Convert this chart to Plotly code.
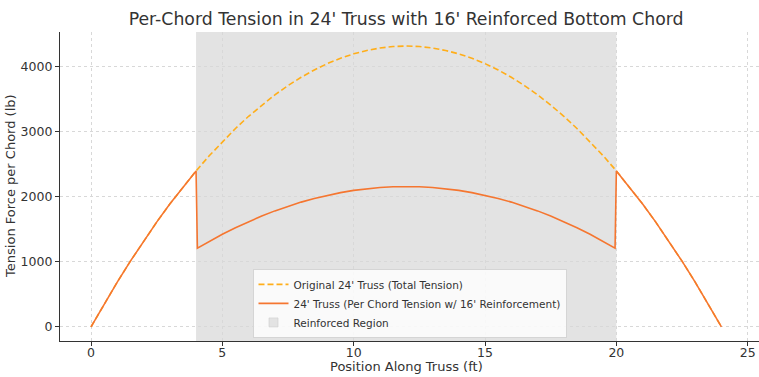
import plotly.graph_objects as go

# Positions along truss (ft)
x_orig = [0, 0.5, 1, 1.5, 2, 2.5, 3, 3.5, 4, 4.5, 5, 5.5, 6, 6.5, 7, 7.5, 8, 8.5, 9, 9.5,
          10, 10.5, 11, 11.5, 12, 12.5, 13, 13.5, 14, 14.5, 15, 15.5, 16, 16.5, 17, 17.5,
          18, 18.5, 19, 19.5, 20, 20.5, 21, 21.5, 22, 22.5, 23, 23.5, 24]
# Original 24' truss total tension (lb)
t_total = [0, 352, 690, 1012, 1320, 1612, 1890, 2152, 2400, 2632, 2850, 3052, 3240, 3412,
           3570, 3712, 3840, 3952, 4050, 4132, 4200, 4252, 4290, 4312, 4320, 4312, 4290,
           4252, 4200, 4132, 4050, 3952, 3840, 3712, 3570, 3412, 3240, 3052, 2850, 2632,
           2400, 2152, 1890, 1612, 1320, 1012, 690, 352, 0]

# Per chord tension with 16' reinforcement
x_chord = [0, 0.5, 1, 1.5, 2, 2.5, 3, 3.5, 4,
           4.05, 4.5, 5, 5.5, 6, 6.5, 7, 7.5, 8, 8.5, 9, 9.5, 10, 10.5, 11, 11.5, 12,
           12.5, 13, 13.5, 14, 14.5, 15, 15.5, 16, 16.5, 17, 17.5, 18, 18.5, 19, 19.5, 19.95,
           20, 20.5, 21, 21.5, 22, 22.5, 23, 23.5, 24]
t_chord = [0, 352, 690, 1012, 1320, 1612, 1890, 2152, 2400,
           1210, 1316, 1425, 1526, 1620, 1706, 1785, 1856, 1920, 1976, 2025, 2066, 2100,
           2126, 2145, 2156, 2160,
           2156, 2145, 2126, 2100, 2066, 2025, 1976, 1920, 1856, 1785, 1706, 1620, 1526,
           1425, 1316, 1210,
           2400, 2152, 1890, 1612, 1320, 1012, 690, 352, 0]

region_start = 4
region_end = 20

x_ticks = [0, 5, 10, 15, 20, 25]
y_ticks = [0, 1000, 2000, 3000, 4000]

REGION_COLOR = "#e3e3e3"

fig = go.Figure()
fig.add_trace(go.Scatter(x=x_orig, y=t_total, mode="lines",
                         name="Original 24' Truss (Total Tension)",
                         line=dict(color="#ffae1a", width=1.6, dash="6px,3px")))
fig.add_trace(go.Scatter(x=x_chord, y=t_chord, mode="lines",
                         name="24' Truss (Per Chord Tension w/ 16' Reinforcement)",
                         line=dict(color="#f57630", width=1.6)))
# legend entry for the shaded region
fig.add_trace(go.Scatter(x=[None], y=[None], mode="markers",
                         marker=dict(symbol="square", size=9, color=REGION_COLOR,
                                     line=dict(width=0.6, color="#cfcfcf")),
                         name="Reinforced Region", hoverinfo="skip"))
fig.add_shape(type="rect", xref="x", yref="paper", x0=region_start, x1=region_end,
              y0=0, y1=1, fillcolor=REGION_COLOR, line=dict(width=0), layer="below")

fig.update_layout(
    width=759, height=377,
    margin=dict(l=60, r=0, t=32, b=35.5, autoexpand=False),
    paper_bgcolor="white", plot_bgcolor="white",
    font=dict(family="DejaVu Sans", color="#333333", size=12.5),
    title=dict(text="Per-Chord Tension in 24' Truss with 16' Reinforced Bottom Chord",
               x=0.535, xanchor="center", y=1 - 19 / 377, yanchor="middle",
               font=dict(size=17.3, color="#333333")),
    legend=dict(x=0.5, xanchor="center", y=0.01, yanchor="bottom",
                bgcolor="rgba(255,255,255,0.8)", bordercolor="#d5d5d5", borderwidth=1,
                font=dict(size=10.5, color="#333333"), tracegroupgap=0, itemwidth=30),
    annotations=[
        dict(text="Position Along Truss (ft)", xref="paper", yref="paper",
             x=0.496, y=0, xanchor="center", yanchor="middle", yshift=-25.5,
             showarrow=False, font=dict(size=13, color="#333333")),
        dict(text="Tension Force per Chord (lb)", xref="paper", yref="paper",
             x=0, y=0.502, xanchor="center", yanchor="middle", xshift=-49,
             textangle=-90, showarrow=False, font=dict(size=13, color="#333333")),
    ],
)
fig.update_xaxes(range=[-1.18, 25.43], tickvals=x_ticks, showline=True, linecolor="#333333",
                 linewidth=1.3, ticks="outside", ticklen=4, tickcolor="#333333",
                 ticklabelstandoff=-4,
                 showgrid=True, gridcolor="#d8d8d8", griddash="dot", zeroline=False,
                 automargin=False, mirror=False)
fig.update_yaxes(range=[-216, 4536], tickvals=y_ticks, showline=True, linecolor="#333333",
                 linewidth=1.3, ticks="outside", ticklen=4, tickcolor="#333333",
                 showgrid=True, gridcolor="#d8d8d8", griddash="dot", zeroline=False,
                 automargin=False, mirror=False)

# remove the default 8px page margin so the 759x377 figure fills the window exactly
fig.write_html("out.html", config={"displayModeBar": False},
               post_script="document.body.style.margin='0';document.body.style.overflow='hidden';")
